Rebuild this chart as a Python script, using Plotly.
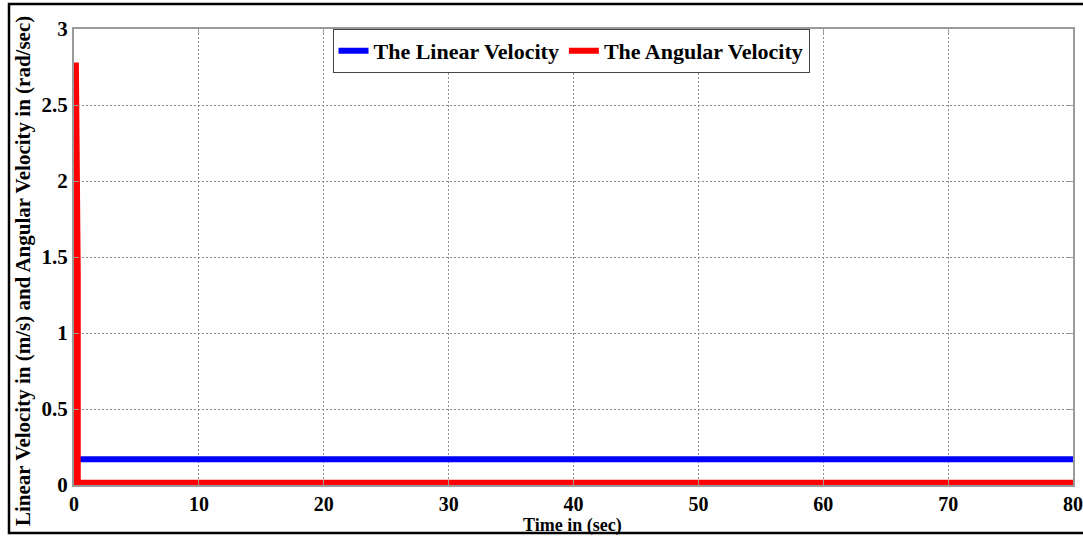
import plotly.graph_objects as go

# Simulation time (s) and robot velocities
time_linear = [0.0, 80.0]
linear_velocity = [0.17, 0.17]          # m/s

time_angular = [0.0, 0.15, 0.15, 0.3, 0.3, 80.0]
angular_velocity = [0.015, 0.015, 2.78, 1.39, 0.015, 0.015]  # rad/sec

x_ticks = [0, 10, 20, 30, 40, 50, 60, 70, 80]
y_ticks = [0, 0.5, 1, 1.5, 2, 2.5, 3]
y_tick_text = ["0", "0.5", "1", "1.5", "2", "2.5", "3"]

W, H = 1083, 536
L, R, T, B = 74, 10, 29, 51
pw, ph = W - L - R, H - T - B

def px_x(p):
    return (p - L) / pw

def px_y(p):
    return (H - B - p) / ph

serif = "Liberation Serif, Times New Roman, serif"
grid_col = "#8c8c8c"
box_col = "#9a9a9a"

fig = go.Figure()
fig.add_trace(go.Scatter(
    x=time_linear, y=linear_velocity, mode="lines",
    name="The Linear Velocity",
    line=dict(color="#0000ff", width=6),
))
fig.add_trace(go.Scatter(
    x=time_angular, y=angular_velocity, mode="lines",
    name="The Angular Velocity",
    line=dict(color="#ff0000", width=6),
))

axis_common = dict(
    showgrid=True, gridcolor=grid_col, gridwidth=1, griddash="2px,2px",
    showline=True, linecolor=box_col, linewidth=2, mirror="ticks",
    ticks="inside", ticklen=5, tickcolor=box_col, tickwidth=1,
    zeroline=False, automargin=False, ticklabeloverflow="allow",
)

fig.update_layout(
    width=W, height=H,
    margin=dict(l=L, r=R, t=T, b=B, autoexpand=False),
    paper_bgcolor="white", plot_bgcolor="white",
    showlegend=True,
    legend=dict(
        orientation="h", x=px_x(571), y=px_y(29),
        xanchor="center", yanchor="top",
        bgcolor="white", bordercolor="#444444", borderwidth=1,
        font=dict(family=serif, size=22, color="black", weight="bold"),
        itemwidth=30, tracegroupgap=0,
    ),
    xaxis=dict(
        range=[0, 80], tickvals=x_ticks,
        tickfont=dict(family=serif, size=20, color="black", weight="bold"),
        **axis_common,
    ),
    yaxis=dict(
        range=[0, 3], tickvals=y_ticks, ticktext=y_tick_text,
        tickfont=dict(family=serif, size=21, color="black", weight="bold"),
        **axis_common,
    ),
    annotations=[
        dict(
            text="Time in (sec)", xref="paper", yref="paper",
            x=px_x(572), y=px_y(525), xanchor="center", yanchor="middle",
            showarrow=False,
            font=dict(family=serif, size=18, color="black", weight="bold"),
        ),
        dict(
            text="Linear Velocity in (m/s) and Angular Velocity in (rad/sec)",
            xref="paper", yref="paper",
            x=px_x(23), y=px_y(271), xanchor="center", yanchor="middle",
            textangle=-90, showarrow=False,
            font=dict(family=serif, size=21, color="black", weight="bold"),
        ),
    ],
    shapes=[
        dict(
            type="rect", xref="paper", yref="paper",
            x0=px_x(9), x1=px_x(1095), y0=px_y(533), y1=px_y(4),
            line=dict(color="black", width=2.5), fillcolor="rgba(0,0,0,0)",
            layer="above",
        ),
    ],
)

fig.write_html("out.html")
